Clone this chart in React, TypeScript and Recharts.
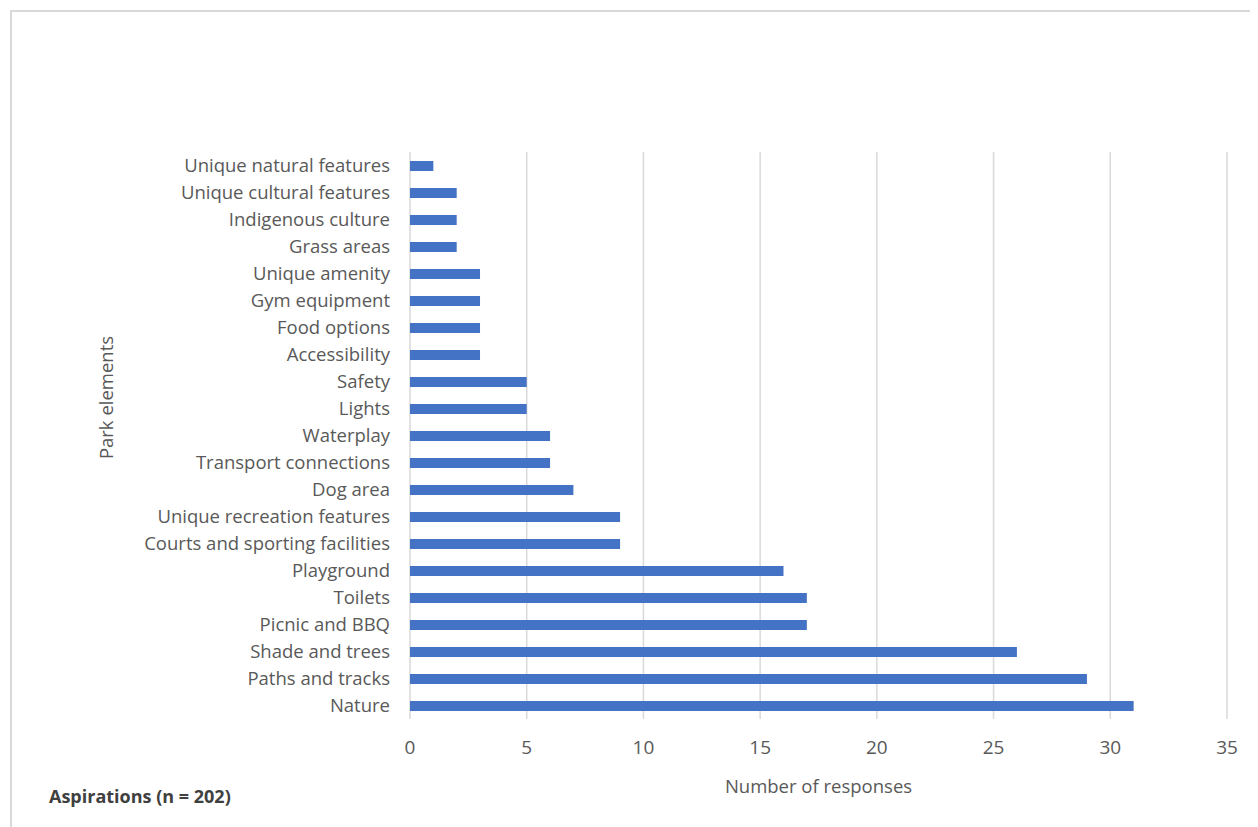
import { BarChart, Bar, XAxis, YAxis, CartesianGrid } from "recharts";

const categories = [
  "Unique natural features",
  "Unique cultural features",
  "Indigenous culture",
  "Grass areas",
  "Unique amenity",
  "Gym equipment",
  "Food options",
  "Accessibility",
  "Safety",
  "Lights",
  "Waterplay",
  "Transport connections",
  "Dog area",
  "Unique recreation features",
  "Courts and sporting facilities",
  "Playground",
  "Toilets",
  "Picnic and BBQ",
  "Shade and trees",
  "Paths and tracks",
  "Nature",
];

const responses = [1, 2, 2, 2, 3, 3, 3, 3, 5, 5, 6, 6, 7, 9, 9, 16, 17, 17, 26, 29, 31];

const xTicks = [0, 5, 10, 15, 20, 25, 30, 35];

const data = categories.map((name, i) => ({ name, value: responses[i] }));

const FONT = "'Open Sans', Lato, sans-serif";
const TEXT = "#595959";

export default function App() {
  return (
    <div style={{ position: "relative", width: 1250, height: 819, fontFamily: FONT }}>
      <div
        style={{
          position: "absolute",
          left: 2,
          top: 2,
          width: 1260,
          height: 830,
          border: "2px solid #d9d9d9",
          boxSizing: "border-box",
        }}
      />
      <BarChart
        width={1250}
        height={819}
        layout="vertical"
        data={data}
        margin={{ top: 144, right: 31, bottom: 48, left: 10 }}
        barCategoryGap="32%"
      >
        <CartesianGrid horizontal={false} stroke="#d9d9d9" strokeWidth={1.5} />
        <XAxis
          type="number"
          domain={[0, 35]}
          ticks={xTicks}
          axisLine={false}
          tickLine={false}
          tickSize={0}
          tickMargin={22}
          height={60}
          tick={{ fill: TEXT, fontSize: 19, fontFamily: FONT }}
          label={{
            value: "Number of responses",
            position: "insideBottom",
            offset: -14,
            fill: TEXT,
            fontSize: 18.5,
            fontFamily: FONT,
          }}
        />
        <YAxis
          type="category"
          dataKey="name"
          width={392}
          axisLine={false}
          tickLine={false}
          tickSize={0}
          tickMargin={20}
          interval={0}
          tick={{ fill: TEXT, fontSize: 18.5, fontFamily: FONT }}
          label={{
            value: "Park elements",
            angle: -90,
            position: "insideLeft",
            offset: 88,
            dy: -38,
            fill: TEXT,
            fontSize: 18.5,
            fontFamily: FONT,
            style: { textAnchor: "middle" },
          }}
        />
        <Bar dataKey="value" fill="#4472C4" barSize={10} isAnimationActive={false} />
      </BarChart>
      <div
        style={{
          position: "absolute",
          left: 41,
          top: 776,
          fontSize: 18,
          fontWeight: 700,
          color: "#404040",
          fontFamily: FONT,
        }}
      >
        Aspirations (n = 202)
      </div>
    </div>
  );
}
